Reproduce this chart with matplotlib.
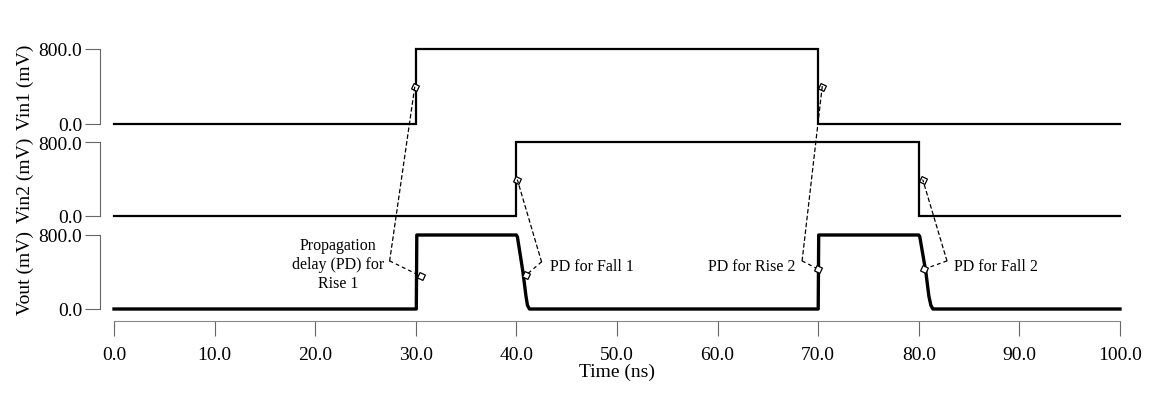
import numpy as np
import matplotlib
matplotlib.use("Agg")
import matplotlib.pyplot as plt
from matplotlib.patches import ConnectionPatch

plt.rcParams['font.family'] = ['Liberation Serif', 'DejaVu Serif']

# signal data (time in ns, voltage in mV)
vin1_t = [0, 30, 30, 70, 70, 100]
vin1_v = [0, 0, 800, 800, 0, 0]
vin2_t = [0, 40, 40, 80, 80, 100]
vin2_v = [0, 0, 800, 800, 0, 0]
vout_t = [0, 30.05, 30.1, 40.0, 40.1, 40.65, 40.95, 41.1, 41.3,
          70.0, 70.05, 80.0, 80.1, 80.7, 81.0, 81.2, 81.4, 100]
vout_v = [0, 0, 800, 800, 780, 400, 140, 40, 0,
          0, 800, 800, 780, 400, 140, 40, 0, 0]

xticks = [0, 10, 20, 30, 40, 50, 60, 70, 80, 90, 100]

# propagation delay annotations: input panel, input marker, output marker, elbow, text
pd_labels = ["Propagation\ndelay (PD) for\nRise 1", "PD for Fall 1", "PD for Rise 2", "PD for Fall 2"]
pd_input = [0, 1, 0, 1]                       # 0 -> Vin1, 1 -> Vin2
pd_in_pt = [(29.9, 400), (40.1, 390), (70.4, 400), (80.4, 390)]
pd_out_pt = [(30.5, 355), (40.95, 365), (70.0, 430), (80.5, 430)]
pd_elbow = [(27.4, 520), (42.5, 510), (68.4, 520), (82.8, 520)]
pd_text = [(22.3, 490), (43.3, 470), (67.7, 470), (83.5, 470)]
pd_ha = ['center', 'left', 'right', 'left']

W, H = 1153, 402
fig = plt.figure(figsize=(W / 100, H / 100), dpi=100)

def px_axes(top, bottom):
    return fig.add_axes([114 / W, 1 - bottom / H, (1120 - 114) / W, (bottom - top) / H])

ax1 = px_axes(50, 125)
ax2 = px_axes(143, 217)
ax3 = px_axes(236, 310)
axes = [ax1, ax2, ax3]

ax1.plot(vin1_t, vin1_v, color='black', lw=1.6, clip_on=False, solid_joinstyle='miter')
ax2.plot(vin2_t, vin2_v, color='black', lw=1.6, clip_on=False, solid_joinstyle='miter')
ax3.plot(vout_t, vout_v, color='black', lw=2.4, clip_on=False, solid_joinstyle='round')

ylabels = ["Vin1 (mV)", "Vin2 (mV)", "Vout (mV)"]
for ax, lab in zip(axes, ylabels):
    ax.set_xlim(0, 100)
    ax.set_ylim(0, 800)
    ax.patch.set_visible(False)
    for s in ['top', 'right', 'bottom']:
        ax.spines[s].set_visible(False)
    ax.spines['left'].set_position(('outward', 10))
    ax.spines['left'].set_color('#666666')
    ax.spines['left'].set_linewidth(0.8)
    ax.set_yticks([0, 800])
    ax.set_yticklabels(["0.0", "800.0"], fontsize=14)
    ax.tick_params(axis='y', length=11, width=0.8, color='#666666', pad=2)
    ax.set_ylabel(lab, fontsize=14, labelpad=3)
    ax.set_xticks([])

ax3.spines['bottom'].set_visible(True)
ax3.spines['bottom'].set_position(('outward', 8.6))
ax3.spines['bottom'].set_color('#888888')
ax3.spines['bottom'].set_linewidth(0.8)
ax3.set_xticks(xticks)
ax3.set_xticklabels([f"{t:.1f}" for t in xticks], fontsize=14)
ax3.tick_params(axis='x', length=11, width=0.8, color='#666666', pad=7)
ax3.set_xlabel("Time (ns)", fontsize=14, labelpad=0)

in_axes = [ax1, ax2]
for lab, pi, pin, pout, el, tx, ha in zip(pd_labels, pd_input, pd_in_pt, pd_out_pt,
                                           pd_elbow, pd_text, pd_ha):
    axi = in_axes[pi]
    axi.plot(*pin, marker=(4, 0, 20), ms=6, mfc='white', mec='black', mew=0.9,
             clip_on=False, zorder=5)
    ax3.plot(*pout, marker=(4, 0, 20), ms=6, mfc='white', mec='black', mew=0.9,
             clip_on=False, zorder=5)
    cp = ConnectionPatch(xyA=el, coordsA=ax3.transData, xyB=pin, coordsB=axi.transData,
                         linestyle=(0, (3, 2.5)), lw=0.9, color='black')
    fig.add_artist(cp)
    ax3.plot([el[0], pout[0]], [el[1], pout[1]], linestyle=(0, (3, 2.5)), lw=0.9,
             color='black', clip_on=False)
    ax3.text(tx[0], tx[1], lab, ha=ha, va='center', fontsize=11.5, linespacing=1.25)

fig.savefig("out.png", dpi=100)
